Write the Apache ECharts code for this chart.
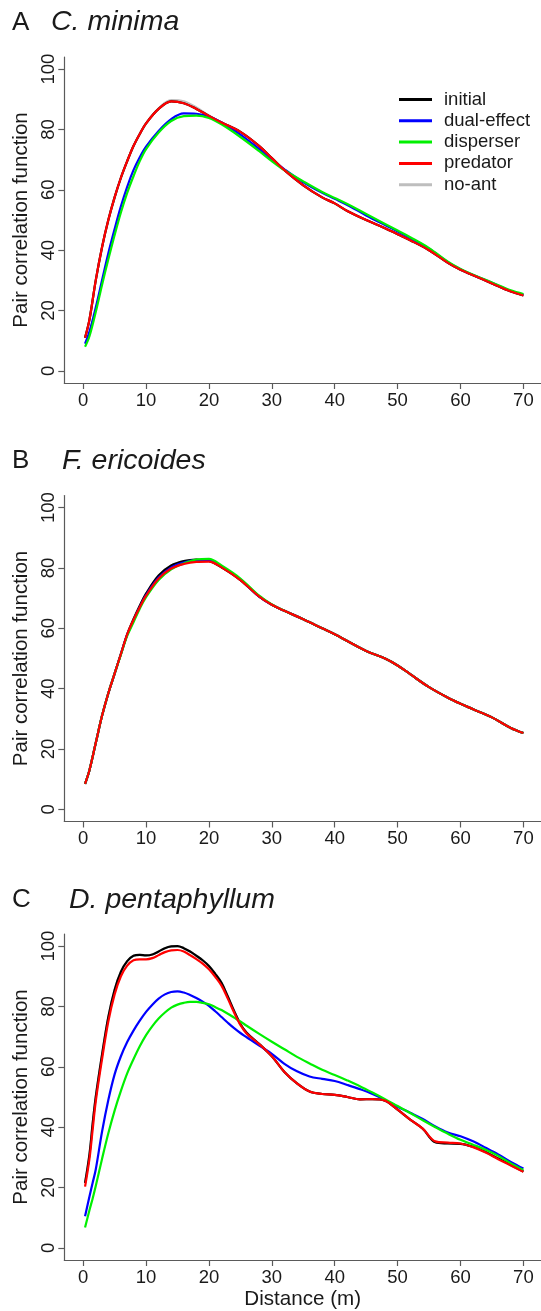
<!DOCTYPE html>
<html>
<head>
<meta charset="utf-8">
<script src="https://cdn.jsdelivr.net/npm/echarts@6/dist/echarts.min.js"></script>
<style>
html,body{margin:0;padding:0;background:#fff;}
#chart{width:541px;height:1311px;}
</style>
</head>
<body>
<div id="chart"></div>
<script>
// ---------- DATA ----------
const seriesNames = ['initial', 'dual-effect', 'disperser', 'predator', 'no-ant'];
const panelLetters = ['A', 'B', 'C'];
const speciesNames = ['C. minima', 'F. ericoides', 'D. pentaphyllum'];
const xTicks = [0, 10, 20, 30, 40, 50, 60, 70];
const yTicks = [0, 20, 40, 60, 80, 100];

// distances for panels A and B
const xAB = [0.3, 1, 2, 3, 4, 5, 6, 7, 8, 9, 10, 12, 14, 16, 18, 20, 22, 25, 28, 30, 32, 35, 38, 40, 42, 45, 48, 50, 52, 55, 58, 60, 62, 65, 68, 70];

// Panel A: C. minima
const aInitial   = [11, 17, 30, 41, 50, 57.5, 64, 69.5, 74.5, 78.5, 82, 86.8, 89.3, 88.7, 86.8, 84.5, 82.3, 79.2, 74.5, 70.5, 66.5, 61.5, 57.5, 55.5, 53, 50, 47.3, 45.3, 43.3, 40, 35.8, 33.5, 31.7, 29, 26.3, 25];
const aDual      = [9, 13, 21, 30, 39, 47, 54.5, 61, 66.5, 70.8, 74.3, 79.5, 83.4, 85.3, 85.2, 84.3, 82.3, 78.3, 73.5, 70, 66.8, 62.5, 59, 57, 55, 51.5, 48.3, 46.2, 44, 40.5, 36, 33.7, 31.8, 29.2, 26.5, 25.3];
const aDisperser = [8, 11.5, 19.5, 28.5, 37, 45, 52.5, 59, 64.5, 69.5, 73.5, 79, 82.8, 84.4, 84.6, 83.8, 81.7, 77.5, 72.8, 69.5, 66.5, 62.8, 59.3, 57.3, 55.3, 52, 48.7, 46.5, 44.3, 40.7, 36.2, 33.8, 31.9, 29.3, 26.7, 25.5];
const aPredator  = [11, 17, 30, 41, 50, 57.5, 64, 69.5, 74.5, 78.5, 82, 86.8, 89.3, 88.7, 86.8, 84.5, 82.3, 79.2, 74.5, 70.5, 66.5, 61.5, 57.5, 55.5, 53, 50, 47.3, 45.3, 43.3, 40, 35.8, 33.5, 31.7, 29, 26.3, 25];
const aNoAnt     = [11, 17, 30, 41, 50, 57.5, 64, 69.5, 74.5, 78.5, 82, 87.0, 89.7, 89.3, 87.3, 84.6, 82.3, 79.2, 74.5, 70.5, 66.5, 61.5, 57.5, 55.5, 53, 50, 47.3, 45.3, 43.3, 40, 35.8, 33.5, 31.7, 29, 26.3, 25];

// Panel B: F. ericoides
const bInitial   = [8.5, 13, 22, 31, 38.5, 45, 51.5, 58, 63, 67.5, 71.5, 77.5, 80.8, 82.3, 82.8, 82.3, 80.2, 76, 70.5, 67.8, 65.8, 63, 60, 58, 55.8, 52.5, 50, 47.7, 44.8, 40.5, 37, 35, 33.2, 30.5, 27, 25.3];
const bDual      = [8.5, 13, 22, 31, 38.5, 45, 51.5, 57.8, 62.5, 67, 71, 76.8, 80.2, 81.8, 82.6, 82.6, 80.5, 76.2, 70.5, 67.8, 65.8, 63, 60, 58, 55.8, 52.5, 50, 47.7, 44.8, 40.5, 37, 35, 33.2, 30.5, 27, 25.3];
const bDisperser = [8.5, 13, 22, 31, 38.5, 45, 51.3, 57.5, 62, 66.5, 70.3, 76, 79.5, 81.5, 82.8, 83, 80.8, 76.5, 70.8, 67.9, 65.8, 63, 60, 58, 55.8, 52.5, 50, 47.7, 44.8, 40.5, 37, 35, 33.2, 30.5, 27, 25.3];
const bPredator  = [8.5, 13, 22, 31, 38.5, 45, 51.5, 58, 62.8, 67, 70.8, 76.5, 79.8, 81.3, 82, 82.1, 80.2, 76, 70.5, 67.8, 65.8, 63, 60, 58, 55.8, 52.5, 50, 47.7, 44.8, 40.5, 37, 35, 33.2, 30.5, 27, 25.3];
const bNoAnt     = [8.5, 13, 22, 31, 38.5, 45, 51.5, 58, 63, 67.5, 71.5, 77.5, 80.8, 82.3, 82.8, 82.3, 80.2, 76, 70.5, 67.8, 65.8, 63, 60, 58, 55.8, 52.5, 50, 47.7, 44.8, 40.5, 37, 35, 33.2, 30.5, 27, 25.3];

// distances for panel C
const xC = [0.3, 1, 1.5, 2, 3, 4, 5, 6, 7, 8, 9, 10, 11, 12, 13, 14, 15, 16, 17, 18, 19, 20, 21, 22, 23, 24, 25, 26, 28, 30, 32, 34, 36, 38, 40, 42, 44, 46, 48, 50, 52, 54, 56, 58, 60, 62, 64, 66, 68, 70];

// Panel C: D. pentaphyllum
const cInitial   = [21.5, 31, 41, 50, 64, 76.5, 85.5, 91.5, 95, 96.8, 97.1, 96.9, 97.2, 98.2, 99.3, 99.9, 100, 99.3, 98.2, 96.8, 95.3, 93.4, 90.8, 87.8, 83.3, 78.5, 74.2, 71.3, 67.5, 63.5, 58.3, 54.5, 51.8, 51, 50.7, 50, 49.2, 49.3, 48.8, 45.8, 42.5, 39.5, 35.0, 34.6, 34.5, 33.5, 31.8, 29.6, 27.5, 25.3];
const cDual      = [10.5, 17, 21.5, 26, 38.5, 49, 57.5, 63.5, 68.2, 72, 75.3, 78.2, 80.6, 82.6, 84, 84.8, 85, 84.6, 83.8, 82.8, 81.6, 80.2, 78.4, 76.5, 74.6, 72.8, 71.2, 69.8, 67, 64.3, 61, 58.5, 56.8, 56, 55.3, 54, 52.6, 51, 49, 46.8, 44.8, 42.7, 40.2, 38.2, 37, 35.3, 33.2, 31, 28.5, 26.3];
const cDisperser = [6.8, 12.5, 16.3, 20.5, 29.5, 38, 45.5, 52, 57.8, 62.5, 66.8, 70.5, 73.5, 76, 78, 79.6, 80.6, 81.2, 81.5, 81.5, 81.2, 80.7, 79.8, 78.8, 77.6, 76.3, 75, 73.6, 70.9, 68.3, 65.8, 63.3, 61.1, 59, 57.3, 55.5, 53.6, 51.5, 49.3, 47, 44.7, 42.3, 40, 37.8, 35.8, 34.2, 32.5, 30.5, 28, 25.8];
const cPredator  = [20.3, 29.5, 39, 48.5, 62.5, 75, 84, 90, 93.5, 95.3, 95.6, 95.6, 96, 97, 98, 98.6, 98.7, 98.2, 97, 95.7, 94.2, 92.3, 89.8, 86.9, 82.6, 78, 73.9, 71, 67.5, 63.5, 58.3, 54.5, 51.8, 51, 50.7, 50, 49.2, 49.3, 48.8, 45.8, 42.5, 39.5, 35.3, 34.9, 34.6, 33.4, 31.6, 29.4, 27.3, 25.2];
const cNoAnt     = [21.5, 31, 41, 50, 64, 76.5, 85.5, 91.5, 95, 96.8, 97.1, 96.9, 97.2, 98.2, 99.3, 99.9, 100, 99.3, 98.2, 96.8, 95.3, 93.4, 90.8, 87.8, 83.3, 78.5, 74.2, 71.3, 67.5, 63.5, 58.3, 54.5, 51.8, 51, 50.7, 50, 49.2, 49.3, 48.8, 45.8, 42.5, 39.5, 35.0, 34.6, 34.5, 33.5, 31.8, 29.6, 27.5, 25.3];

// ---------- BUILD ----------
const FONT = '"Liberation Sans", Arial, Helvetica, sans-serif';
const TXT = '#1a1a1a';
const AXC = '#5a5a5a';
const colors = {'initial': '#000000', 'dual-effect': '#0000ff', 'disperser': '#00f000', 'predator': '#ff0000', 'no-ant': '#bebebe'};

const panels = [
  {x: xAB, vals: {'initial': aInitial, 'dual-effect': aDual, 'disperser': aDisperser, 'predator': aPredator, 'no-ant': aNoAnt}},
  {x: xAB, vals: {'initial': bInitial, 'dual-effect': bDual, 'disperser': bDisperser, 'predator': bPredator, 'no-ant': bNoAnt}},
  {x: xC,  vals: {'initial': cInitial, 'dual-effect': cDual, 'disperser': cDisperser, 'predator': cPredator, 'no-ant': cNoAnt}}
];
const gridTops = [57, 495.5, 934];
const titleY = [22.5, 461, 900];
const speciesX = [51, 62, 69];
const drawOrder = ['no-ant', 'initial', 'dual-effect', 'disperser', 'predator'];

const grids = gridTops.map(t => ({left: 64.3, top: t, width: 480.6, height: 326}));

const xAxes = gridTops.map((t, i) => ({
  type: 'value', gridIndex: i, min: -3, max: 72.8,
  axisLine: {show: true, onZero: false, lineStyle: {color: AXC, width: 1.2}},
  axisTick: {show: true, length: 6, inside: false, customValues: xTicks, lineStyle: {color: AXC, width: 1.2}},
  axisLabel: {show: true, customValues: xTicks, margin: 8, fontSize: 18.5, color: TXT, fontFamily: FONT},
  splitLine: {show: false},
  name: i === 2 ? 'Distance (m)' : '',
  nameLocation: 'middle', nameGap: 29,
  nameTextStyle: {fontSize: 20.6, color: TXT, fontFamily: FONT}
}));

const yAxes = gridTops.map((t, i) => ({
  type: 'value', gridIndex: i, min: -4, max: 104,
  axisLine: {show: true, onZero: false, lineStyle: {color: AXC, width: 1.2}},
  axisTick: {show: true, length: 6, inside: false, customValues: yTicks, lineStyle: {color: AXC, width: 1.2}},
  axisLabel: {show: true, customValues: yTicks, rotate: 90, margin: 6, fontSize: 18.5, color: TXT, fontFamily: FONT},
  splitLine: {show: false},
  name: 'Pair correlation function',
  nameLocation: 'middle', nameRotate: 90, nameGap: 30,
  nameTextStyle: {fontSize: 20.5, color: TXT, fontFamily: FONT}
}));

const series = [];
panels.forEach((p, i) => {
  drawOrder.forEach((nm, k) => {
    series.push({
      type: 'line', name: nm, xAxisIndex: i, yAxisIndex: i,
      data: p.x.map((xv, j) => [xv, p.vals[nm][j]]),
      showSymbol: false, symbol: 'none', smooth: 0.35,
      lineStyle: {color: colors[nm], width: 2.2},
      itemStyle: {color: colors[nm]},
      emphasis: {disabled: true},
      z: 2 + k
    });
  });
});

const graphics = [];
panelLetters.forEach((L, i) => {
  graphics.push({type: 'text', x: 12, y: titleY[i], style: {text: L, font: '26px ' + FONT, fill: TXT, verticalAlign: 'middle', align: 'left'}});
  graphics.push({type: 'text', x: speciesX[i], y: titleY[i], style: {text: speciesNames[i], font: 'italic 28.5px ' + FONT, fill: TXT, verticalAlign: 'middle', align: 'left'}});
});

const option = {
  animation: false,
  backgroundColor: '#ffffff',
  grid: grids,
  xAxis: xAxes,
  yAxis: yAxes,
  legend: {
    show: true, data: seriesNames, orient: 'vertical',
    left: 399, top: 90, padding: 0,
    icon: 'rect', itemWidth: 33, itemHeight: 3, itemGap: 2.3,
    selectedMode: false,
    textStyle: {fontSize: 18.5, lineHeight: 18, color: TXT, fontFamily: FONT, padding: [0, 0, 0, 7]}
  },
  graphic: graphics,
  series: series
};

const chart = echarts.init(document.getElementById('chart'), null, {renderer: 'canvas'});
chart.setOption(option);
</script>
</body>
</html>
